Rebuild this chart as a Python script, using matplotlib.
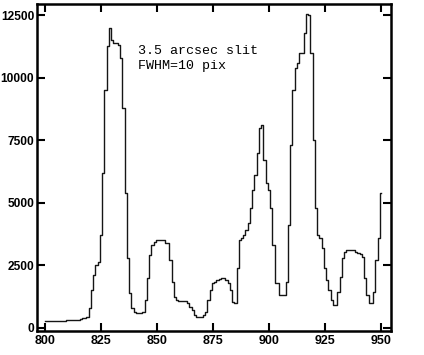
import matplotlib
matplotlib.use("Agg")
import matplotlib.pyplot as plt
import numpy as np

wavelength = list(range(800, 951))
flux = [
    280, 270, 270, 270, 270, 280, 280, 280, 290, 290,   # 800-809
    300, 300, 310, 320, 320, 330, 350, 380, 400, 450,   # 810-819
    800, 1500, 2100, 2500, 2650, 3700, 6200, 9500, 11250, 12000,  # 820-829
    11500, 11400, 11400, 11300, 10800, 8800, 5400, 2800, 1400, 800,  # 830-839
    620, 600, 600, 600, 650, 1100, 2000, 2900, 3300, 3450,  # 840-849
    3500, 3500, 3500, 3500, 3400, 3400, 2700, 1850, 1250, 1100,  # 850-859
    1080, 1080, 1060, 1060, 1000, 840, 700, 520, 440, 430,  # 860-869
    440, 500, 640, 1100, 1500, 1800, 1850, 1900, 1950, 2000,  # 870-879
    2000, 1900, 1800, 1500, 1040, 1000, 2400, 3500, 3600, 3700,  # 880-889
    3900, 4200, 4800, 5500, 6100, 7000, 8000, 8100, 6700, 5800,  # 890-899
    5500, 4800, 3300, 1800, 1800, 1300, 1300, 1300, 1850, 4100,  # 900-909
    7300, 9500, 10400, 10600, 11000, 11000, 11800, 12550, 12500, 11000,  # 910-919
    7500, 4800, 3700, 3600, 3200, 2400, 1900, 1500, 1100, 920,  # 920-929
    920, 1450, 2050, 2800, 3050, 3100, 3100, 3100, 3100, 3050,  # 930-939
    3000, 2950, 2850, 2000, 1300, 1000, 1000, 1450, 2700, 3600,  # 940-949
    5400,  # 950
]
x_ticks = [800, 825, 850, 875, 900, 925, 950]
y_ticks = [0, 2500, 5000, 7500, 10000, 12500]
annotation = "3.5 arcsec slit\nFWHM=10 pix"

fig = plt.figure(figsize=(4.24, 3.55), dpi=100)
ax = fig.add_axes([37/424, 1 - 331/355, (391-37)/424, (331-4)/355])
ax.step(wavelength, flux, where='mid', color='#151515', lw=1.0)

ax.set_xlim(796.4, 954.5)
ax.set_ylim(-120, 12940)
ax.set_xticks(x_ticks)
ax.set_yticks(y_ticks)
ax.set_xticklabels([str(t) for t in x_ticks], fontfamily='Liberation Sans',
                   fontweight='bold', fontsize=9)
ax.set_yticklabels([str(t) for t in y_ticks], fontfamily='Liberation Sans',
                   fontweight='bold', fontsize=8.6)
ax.tick_params(direction='in', length=6, width=1.5, top=True, right=True,
               pad=3)
ax.tick_params(axis='y', pad=2)
for s in ax.spines.values():
    s.set_linewidth(1.8)
    s.set_color('black')

ax.text(0.285, 0.875, annotation, transform=ax.transAxes,
        fontfamily='Liberation Mono', fontsize=9.6, va='top', ha='left',
        linespacing=1.4)

fig.savefig("out.png", dpi=100)
